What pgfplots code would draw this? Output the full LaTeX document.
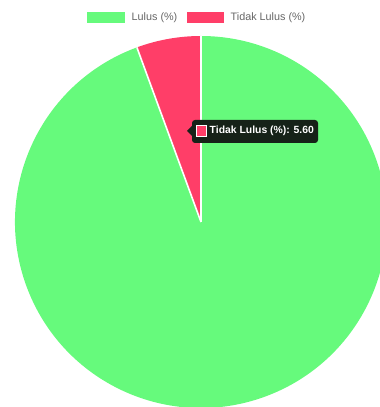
\documentclass[border=0pt]{standalone}
\usepackage{pgfplots}
\pgfplotsset{compat=1.18}
\usepackage{pgfplotstable}
\usepackage{fontspec}
\setmainfont{Liberation Sans}

\definecolor{lulus}{RGB}{102,250,124}
\definecolor{tidak}{RGB}{255,62,104}
\definecolor{legtext}{RGB}{102,102,102}
\definecolor{tipbg}{RGB}{22,34,24}

% share of each outcome, in percent
\pgfplotstableread{
label   value
Lulus   94.40
Tidak   5.60
}\piedata

\begin{document}
\begin{tikzpicture}
\begin{axis}[
  x=1pt, y=1pt,
  xmin=0, xmax=380, ymin=0, ymax=407,
  hide axis, clip=true,
]
  % centre and radius of the pie
  \def\cx{201}\def\cy{185}\def\R{186}
  \pgfplotstablegetelem{0}{value}\of\piedata \let\vA\pgfplotsretval
  \pgfplotstablegetelem{1}{value}\of\piedata \let\vB\pgfplotsretval
  \pgfmathsetmacro{\aB}{90+3.6*\vB}   % end angle of the small slice
  \pgfmathsetmacro{\aA}{\aB+3.6*\vA}  % end angle of the large slice
  % slices, drawn clockwise from the top
  \fill[lulus] (axis cs:\cx,\cy) -- ++(\aB:\R pt) arc[start angle=\aB, end angle=\aA, radius=\R pt] -- cycle;
  \fill[tidak] (axis cs:\cx,\cy) -- ++(90:\R pt) arc[start angle=90, end angle=\aB, radius=\R pt] -- cycle;
  \draw[white, line width=1.6pt] (axis cs:\cx,\cy) -- ++(90:\R pt);
  \draw[white, line width=1.6pt] (axis cs:\cx,\cy) -- ++(\aB:\R pt);

  % legend
  \fill[lulus] (axis cs:87,384) rectangle (axis cs:125,395);
  \node[anchor=west, text=legtext, font=\fontsize{10.8}{13}\selectfont, inner sep=0pt]
    at (axis cs:131.5,389.5) {Lulus (\%)};
  \fill[tidak] (axis cs:187,384) rectangle (axis cs:224,395);
  \node[anchor=west, text=legtext, font=\fontsize{10.8}{13}\selectfont, inner sep=0pt]
    at (axis cs:230.5,389.5) {Tidak Lulus (\%)};

  % tooltip
  \fill[tipbg, rounded corners=3pt] (axis cs:192,264) rectangle (axis cs:318,287);
  \fill[tipbg] (axis cs:187,276) -- (axis cs:193,282) -- (axis cs:193,270) -- cycle;
  \filldraw[fill=tidak, draw=white, line width=1pt] (axis cs:196.5,270.5) rectangle (axis cs:206.5,281);
  \node[anchor=west, text=white, font=\bfseries\fontsize{10.4}{12}\selectfont, inner sep=0pt]
    at (axis cs:209.5,275.7) {Tidak Lulus (\%): 5.60};
\end{axis}
% the page is the axis area; the pie runs off its right and bottom edges
\pgfresetboundingbox
\path[use as bounding box] (current axis.south west) rectangle (current axis.north east);
\end{tikzpicture}
\end{document}
